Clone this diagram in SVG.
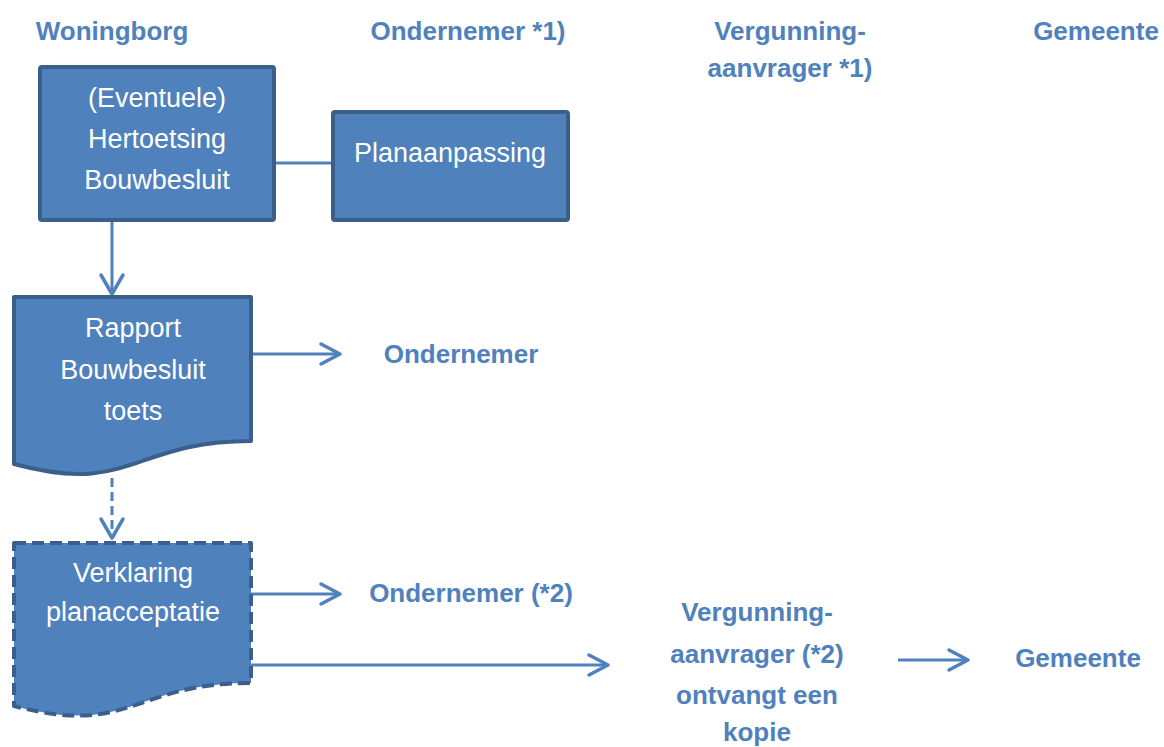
<svg xmlns="http://www.w3.org/2000/svg" width="1164" height="747" viewBox="0 0 1164 747">
<style>
.box{fill:#4F81BD;stroke:#3A5F8B;stroke-width:4;stroke-linejoin:round}
.dash{stroke-dasharray:12 6}
.wt{fill:#FFFFFF;font-family:"Liberation Sans",Arial,sans-serif;font-size:27px;text-anchor:middle}
.lb{fill:#4F81BD;font-family:"Liberation Sans",Arial,sans-serif;font-size:26px;font-weight:bold;text-anchor:middle}
.ln{fill:none;stroke:#4F81BD;stroke-width:3}
.ah{fill:none;stroke:#4F81BD;stroke-width:3.5;stroke-linecap:round;stroke-linejoin:round}
</style>
<rect width="1164" height="747" fill="#FFFFFF"/>
<g id="headers">
<text class="lb" x="112" y="40">Woningborg</text>
<text class="lb" x="468" y="40">Ondernemer *1)</text>
<text class="lb" x="790" y="40">Vergunning-</text>
<text class="lb" x="790" y="77">aanvrager *1)</text>
<text class="lb" x="1096" y="40">Gemeente</text>
</g>
<g id="connectors">
<line class="ln" x1="274" y1="163" x2="333" y2="163"/>
<line class="ln" x1="112" y1="222" x2="112" y2="294"/>
<path class="ah" d="M101,275 L112,294 L123,275"/>
<line class="ln" x1="251" y1="354" x2="338" y2="354"/>
<path class="ah" d="M321,344 L340,354 L321,364"/>
<line class="ln" x1="112" y1="478" x2="112" y2="538" stroke-dasharray="9 5"/>
<path class="ah" d="M101,519 L112,538 L123,519"/>
<line class="ln" x1="251" y1="594" x2="338" y2="594"/>
<path class="ah" d="M321,584 L340,594 L321,604"/>
<line class="ln" x1="251" y1="665" x2="606" y2="665"/>
<path class="ah" d="M589,655 L608,665 L589,675"/>
<line class="ln" x1="898" y1="660" x2="966" y2="660"/>
<path class="ah" d="M949,650 L968,660 L949,670"/>
</g>
<g id="node-hertoetsing">
<rect class="box" x="40" y="67" width="234" height="153" rx="2"/>
<text class="wt" x="157" y="107">(Eventuele)</text>
<text class="wt" x="157" y="148">Hertoetsing</text>
<text class="wt" x="157" y="189">Bouwbesluit</text>
</g>
<g id="node-planaanpassing">
<rect class="box" x="333" y="112" width="235" height="108" rx="2"/>
<text class="wt" x="450" y="162">Planaanpassing</text>
</g>
<g id="node-rapport">
<path class="box" d="M14,297 H251 V441 C132,441 132,496 14,464 Z"/>
<text class="wt" x="133" y="337">Rapport</text>
<text class="wt" x="133" y="379">Bouwbesluit</text>
<text class="wt" x="133" y="420">toets</text>
</g>
<text class="lb" x="461" y="363">Ondernemer</text>
<g id="node-verklaring">
<path class="box dash" d="M14,543 H251 V683 C132,683 132,737 14,706 Z"/>
<text class="wt" x="133" y="582">Verklaring</text>
<text class="wt" x="133" y="621">planacceptatie</text>
</g>
<text class="lb" x="471" y="602">Ondernemer (*2)</text>
<g id="node-vergunning">
<text class="lb" x="757" y="621">Vergunning-</text>
<text class="lb" x="757" y="663">aanvrager (*2)</text>
<text class="lb" x="757" y="704">ontvangt een</text>
<text class="lb" x="757" y="741">kopie</text>
</g>
<g id="node-gemeente">
<text class="lb" x="1078" y="667">Gemeente</text>
</g>
</svg>
